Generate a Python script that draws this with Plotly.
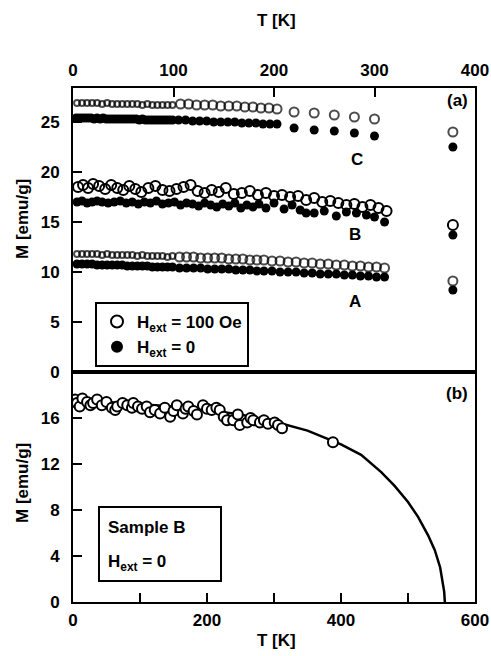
import plotly.graph_objects as go

# ---------------- data: panel (a) ----------------
C_open_T = [4, 9, 14, 19, 24, 29, 34, 39, 44, 49, 54, 59, 64, 69, 74, 79, 84, 89, 94, 99,
            107, 115, 123, 131, 139, 147, 155, 163, 171, 179, 187, 195, 203,
            220, 240, 260, 280, 300, 378]
C_open_M = [26.9, 26.9, 26.9, 26.9, 26.9, 26.8, 26.9, 26.8, 26.8, 26.8, 26.8, 26.8, 26.8, 26.7, 26.8, 26.7, 26.7, 26.7, 26.7, 26.7,
            26.8, 26.8, 26.7, 26.7, 26.7, 26.6, 26.6, 26.6, 26.5, 26.5, 26.4, 26.4, 26.3,
            26.0, 25.9, 25.7, 25.5, 25.3, 24.0]

C_fill_T = [3, 6, 9, 12, 15, 18, 21, 24, 27, 30, 33, 36, 39, 42, 45, 48, 51, 54, 57, 60,
            63, 66, 69, 72, 75, 78, 81, 84, 87, 90, 93, 96, 99,
            105, 112, 119, 126, 133, 140, 147, 154, 161, 168, 175, 182, 189, 196, 203,
            220, 240, 260, 280, 300, 378]
C_fill_M = [25.4, 25.4, 25.4, 25.4, 25.4, 25.4, 25.3, 25.4, 25.3, 25.4, 25.3, 25.3, 25.3, 25.3, 25.3, 25.3, 25.3, 25.3, 25.3, 25.3,
            25.3, 25.2, 25.3, 25.2, 25.2, 25.2, 25.2, 25.2, 25.2, 25.2, 25.2, 25.2, 25.2,
            25.2, 25.2, 25.1, 25.1, 25.1, 25.0, 25.0, 25.0, 25.0, 24.9, 24.9, 24.9, 24.8, 24.8, 24.8,
            24.4, 24.2, 24.1, 23.9, 23.6, 22.5]

B_open_T = [5, 10, 15, 20, 26, 32, 38, 44, 50, 56, 62, 68, 75, 82, 89, 96, 103, 110, 117, 124,
            131, 138, 145, 152, 160, 168, 176, 184, 192, 200, 208, 216, 224, 232, 240, 248,
            256, 264, 272, 280, 288, 296, 304, 312, 378]
B_open_M = [18.5, 18.7, 18.4, 18.8, 18.6, 18.3, 18.7, 18.4, 18.2, 18.6, 18.3, 18.0, 18.4, 18.6, 18.2, 18.1, 18.3, 18.5, 18.7, 18.1,
            17.9, 18.2, 18.0, 18.4, 17.8, 17.9, 18.1, 17.7, 17.9, 17.6, 17.7, 17.5, 17.6, 17.2, 17.4, 17.0,
            17.1, 16.9, 16.7, 16.8, 16.5, 16.7, 16.4, 16.1, 14.7]

B_fill_T = [4, 9, 14, 19, 24, 29, 35, 41, 47, 53, 59, 65, 71, 77, 83, 89, 95, 101, 107, 113,
            119, 125, 131, 137, 143, 149, 155, 161, 167, 173, 179, 185, 192, 200, 210, 218,
            226, 232, 240, 250, 262, 272, 282, 292, 300, 310, 378]
B_fill_M = [17.0, 17.1, 16.9, 17.0, 17.1, 17.0, 16.9, 17.0, 17.1, 16.9, 17.0, 16.8, 17.0, 16.9, 17.1, 16.8, 16.9, 17.0, 16.7, 16.9,
            16.8, 16.6, 16.9, 16.7, 16.5, 16.8, 16.6, 16.9, 16.4, 16.7, 16.5, 16.8, 16.4, 16.9, 16.3, 16.7,
            16.2, 15.9, 15.9, 16.1, 15.6, 16.0, 15.9, 15.7, 15.5, 15.0, 13.7]

A_open_T = [4, 9, 14, 19, 24, 29, 34, 39, 44, 49, 54, 59, 64, 69, 74, 79, 84, 89, 94, 99,
            106, 113, 120, 127, 134, 141, 148, 155, 162, 169, 176, 183, 190, 198, 206, 214,
            222, 230, 238, 246, 254, 262, 270, 278, 286, 294, 302, 310, 378]
A_open_M = [11.8, 11.8, 11.8, 11.8, 11.8, 11.7, 11.8, 11.7, 11.7, 11.7, 11.7, 11.7, 11.6, 11.7, 11.6, 11.6, 11.6, 11.6, 11.5, 11.6,
            11.5, 11.5, 11.5, 11.4, 11.4, 11.4, 11.4, 11.3, 11.3, 11.3, 11.2, 11.2, 11.2, 11.1, 11.1, 11.0,
            11.0, 10.9, 10.9, 10.8, 10.8, 10.7, 10.7, 10.6, 10.6, 10.5, 10.5, 10.4, 9.1]

A_fill_T = [4, 9, 14, 19, 24, 29, 34, 39, 44, 49, 54, 59, 64, 69, 74, 79, 84, 89, 94, 99,
            106, 113, 120, 127, 134, 141, 148, 155, 162, 169, 176, 183, 190, 198, 206, 214,
            222, 230, 238, 246, 254, 262, 270, 278, 286, 294, 302, 310, 378]
A_fill_M = [10.8, 10.8, 10.8, 10.8, 10.7, 10.7, 10.7, 10.7, 10.7, 10.7, 10.6, 10.6, 10.6, 10.6, 10.6, 10.5, 10.5, 10.5, 10.5, 10.5,
            10.4, 10.4, 10.4, 10.4, 10.3, 10.3, 10.3, 10.3, 10.2, 10.2, 10.2, 10.1, 10.1, 10.1, 10.0, 10.0,
            10.0, 9.9, 9.9, 9.8, 9.8, 9.8, 9.7, 9.7, 9.6, 9.6, 9.5, 9.5, 8.2]

# ---------------- data: panel (b) ----------------
b_T = [3, 6, 10, 14, 21, 26, 30, 36, 43, 50, 58, 63, 66, 74, 81, 88, 90, 97, 103, 110,
       115, 122, 130, 137, 145, 150, 155, 164, 168, 172, 180, 185, 194, 200, 207, 214,
       219, 225, 230, 239, 246, 249, 260, 265, 269, 279, 285, 291, 301, 306, 312, 388]
b_M = [17.6, 17.3, 17.0, 17.7, 17.4, 17.1, 17.3, 17.6, 17.1, 17.4, 16.9, 16.7, 17.0, 17.3, 17.1, 16.9, 17.3, 17.0, 16.8, 17.0,
       16.5, 16.7, 16.4, 16.9, 16.1, 16.6, 17.1, 16.4, 16.8, 17.0, 16.6, 16.3, 17.1, 16.8, 16.7, 16.9,
       16.7, 16.1, 15.8, 15.8, 16.3, 15.4, 15.6, 16.0, 15.8, 15.6, 15.8, 15.5, 15.6, 15.4, 15.1, 13.9]

fit_T = [0, 50, 100, 150, 200, 250, 300, 350, 400, 430, 460, 480, 500, 515, 530, 540, 548, 552, 554, 555]
fit_M = [17.5, 17.4, 17.2, 17.0, 16.7, 16.3, 15.7, 14.9, 13.7, 12.8, 11.3, 10.1, 8.7, 7.4, 5.8, 4.5, 3.0, 1.8, 0.9, 0.0]

sample_labels = ["C", "B", "A"]
label_T = [283, 281, 281]
label_M = [21.3, 13.8, 7.1]

W, H = 491, 656
FONT = "Arial, Liberation Sans, sans-serif"


def px(x):
    return x / W


def py(y):
    return 1 - y / H


fig = go.Figure()

open_style = dict(symbol="circle-open", color="black", line=dict(width=2, color="black"))
fill_style = dict(symbol="circle", color="black", line=dict(width=0))


def sizes(T, small=6, big=9):
    return [small if t < 100 else big for t in T]


for T, M in [(C_open_T, C_open_M), (B_open_T, B_open_M), (A_open_T, A_open_M)]:
    fig.add_trace(go.Scatter(x=T, y=M, mode="markers", xaxis="x2", yaxis="y2",
                             marker=dict(size=sizes(T, 6, 9) if T is not B_open_T else 10, **open_style),
                             showlegend=False))
for T, M in [(C_fill_T, C_fill_M), (B_fill_T, B_fill_M), (A_fill_T, A_fill_M)]:
    fig.add_trace(go.Scatter(x=T, y=M, mode="markers", xaxis="x2", yaxis="y2",
                             marker=dict(size=9, **fill_style), showlegend=False))

# legend entries
fig.add_trace(go.Scatter(x=[None], y=[None], mode="markers", xaxis="x2", yaxis="y2",
                         name="H<sub>ext</sub> = 100 Oe",
                         marker=dict(size=7, **open_style)))
fig.add_trace(go.Scatter(x=[None], y=[None], mode="markers", xaxis="x2", yaxis="y2",
                         name="H<sub>ext</sub> = 0",
                         marker=dict(size=8, **fill_style)))

# panel (b)
fig.add_trace(go.Scatter(x=fit_T, y=fit_M, mode="lines", xaxis="x", yaxis="y",
                         line=dict(color="black", width=2.5), showlegend=False))
fig.add_trace(go.Scatter(x=b_T, y=b_M, mode="markers", xaxis="x", yaxis="y",
                         marker=dict(size=10, symbol="circle", color="white",
                                     line=dict(width=2, color="black")),
                         showlegend=False))

tickfont = dict(family=FONT, size=17, color="black", weight="bold")
axis_common = dict(showline=True, linecolor="black", linewidth=2, mirror=True,
                   showgrid=False, zeroline=False, ticks="inside", tickcolor="black",
                   tickwidth=2, tickfont=tickfont, automargin=False)

x0, x1 = px(73), px(475)
fig.update_layout(
    template="none",
    width=W, height=H,
    margin=dict(l=0, r=0, t=0, b=0, pad=0),
    paper_bgcolor="white", plot_bgcolor="white",
    xaxis=dict(domain=[x0, x1], range=[0, 600], anchor="y",
               tickvals=[0, 200, 400, 600], ticklen=9,
               minor=dict(dtick=100, ticks="inside", ticklen=9, tickcolor="black", tickwidth=2),
               ticklabelstandoff=2, **axis_common),
    yaxis=dict(domain=[py(602), py(372)], range=[0, 20], anchor="x",
               tickvals=[0, 4, 8, 12, 16], ticklen=9, ticklabelstandoff=8, **axis_common),
    xaxis2=dict(domain=[x0, x1], range=[0, 400], anchor="y2", side="top",
                tickvals=[0, 100, 200, 300, 400], ticklen=9, ticklabelstandoff=3, **axis_common),
    yaxis2=dict(domain=[py(372), py(88)], range=[0, 28.4], anchor="x2",
                tickvals=[0, 5, 10, 15, 20, 25], ticklen=9, ticklabelstandoff=8, **axis_common),
    legend=dict(x=px(95), y=py(302), xanchor="left", yanchor="top",
                bordercolor="black", borderwidth=2, bgcolor="white",
                font=dict(family=FONT, size=17, color="black", weight="bold"),
                itemsizing="constant", tracegroupgap=0),
    showlegend=True,
)

ann_font = dict(family=FONT, size=17, color="black", weight="bold")


def pann(x, y, text, xanchor="center", **kw):
    return dict(x=px(x), y=py(y), xref="paper", yref="paper", text=text, showarrow=False,
                xanchor=xanchor, yanchor="middle", font=ann_font, **kw)


annotations = [
    pann(276, 21, "T [K]"),
    pann(276, 640, "T [K]"),
    pann(22, 219, "M [emu/g]", textangle=-90),
    pann(22, 483, "M [emu/g]", textangle=-90),
    pann(470, 100, "(a)", xanchor="right"),
    pann(470, 393, "(b)", xanchor="right"),
    pann(106, 527, "Sample B", xanchor="left"),
    pann(106, 563, "H<sub>ext</sub> = 0", xanchor="left"),
]
for lab, t, m in zip(sample_labels, label_T, label_M):
    annotations.append(dict(x=t, y=m, xref="x2", yref="y2", text=lab, showarrow=False,
                            xanchor="center", yanchor="middle", font=ann_font))
fig.update_layout(annotations=annotations)

fig.add_shape(type="rect", xref="paper", yref="paper",
              x0=px(99), x1=px(221), y0=py(581), y1=py(507),
              line=dict(color="black", width=2), fillcolor="rgba(0,0,0,0)")

fig.write_html("out.html")
